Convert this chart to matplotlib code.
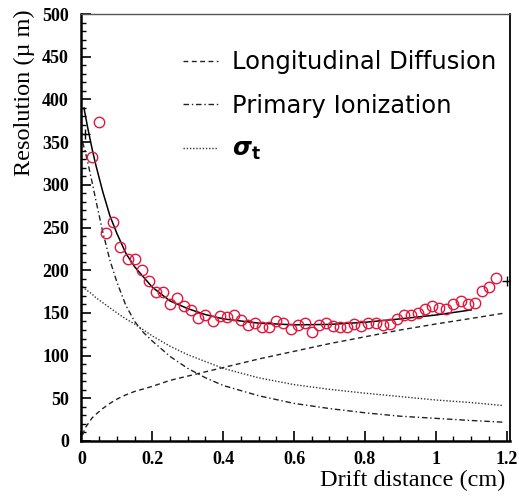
import numpy as np
import matplotlib
matplotlib.use('Agg')
import matplotlib.pyplot as plt
from matplotlib.ticker import MultipleLocator

# measured points
jarak = [0.03, 0.05, 0.07, 0.09, 0.11, 0.13, 0.15, 0.17, 0.19, 0.21,
         0.23, 0.25, 0.27, 0.29, 0.31, 0.33, 0.35, 0.37, 0.39, 0.41,
         0.43, 0.45, 0.47, 0.49, 0.51, 0.53, 0.55, 0.57, 0.59, 0.61,
         0.63, 0.65, 0.67, 0.69, 0.71, 0.73, 0.75, 0.77, 0.79, 0.81,
         0.83, 0.85, 0.87, 0.89, 0.91, 0.93, 0.95, 0.97, 0.99, 1.01,
         1.03, 1.05, 1.07, 1.09, 1.11, 1.13, 1.15, 1.17]
resolusi = [333, 373, 244, 256, 227, 213, 213, 200, 187, 175,
            175, 161, 167, 158, 153, 144, 148, 141, 146, 145,
            148, 142, 135.5, 138, 133, 134, 141, 138, 131, 136,
            138, 128, 135.5, 138, 135, 134, 133, 137, 135, 138.7,
            138, 136, 136.7, 143, 147.6, 147.6, 149.5, 155, 158, 156,
            154, 160, 163.5, 161, 162, 175.6, 180.7, 191]

# model curves
kurvaX = [0.003, 0.01, 0.02, 0.03, 0.04, 0.06, 0.08, 0.1, 0.125, 0.15, 0.175, 0.2,
          0.25, 0.3, 0.35, 0.4, 0.5, 0.6, 0.7, 0.8, 0.9, 1.0, 1.1, 1.19]
longDiff = [7, 15, 21, 27, 31, 38, 44, 49, 54, 58, 61, 64,
            71, 76, 81, 86, 96, 105, 114, 122, 130, 137, 143.5, 149.5]
primIon = [350, 340, 322, 303, 283, 245, 212, 186, 159, 140, 127, 117,
           99, 85, 74, 65, 53, 44, 38, 33, 29, 26.5, 24, 22]
sigmaT = [181, 178, 175, 172, 168, 162, 156, 150, 143, 137, 130, 123,
          111, 101, 93, 85, 74, 66, 60.5, 56, 52, 48, 45, 41.5]

fitX = [0.007, 0.018, 0.03, 0.04, 0.06, 0.08, 0.1, 0.125, 0.15, 0.175, 0.2,
        0.25, 0.3, 0.35, 0.4, 0.5, 0.6, 0.7, 0.8, 0.9, 1.0, 1.1]
fitY = [390, 366, 342, 324, 292, 264, 243, 220, 204, 192, 180,
        164, 155, 148, 143, 138, 136, 136.5, 139, 143, 147.5, 153.5]

plusX = [0.01, 1.2]
plusY = [359, 187]

labelLD = 'Longitudinal Diffusion'
labelPI = 'Primary Ionization'
labelST = r'$\boldsymbol{\sigma}_\mathbf{t}$'

fig = plt.figure(figsize=(5.19, 4.97), dpi=100)
ax = fig.add_axes([0.157, 0.1127, 0.826, 0.8591])

ax.plot(kurvaX, longDiff, color='#222222', lw=1.0, ls=(0, (3.5, 2.5)), label=labelLD)
ax.plot(kurvaX, primIon, color='#222222', lw=1.0, ls=(0, (4, 2, 1, 2)), label=labelPI)
ax.plot(kurvaX, sigmaT, color='#333333', lw=1.0, ls=(0, (1, 1.3)), label=labelST)
ax.plot(fitX, fitY, color='black', lw=1.1)
ax.plot(jarak, resolusi, 'o', mfc='none', mec='#e3173c', mew=1.0, ms=7.5)
ax.plot(plusX, plusY, '+', color='black', ms=7, mew=1.0)

ax.set_xlim(0, 1.21)
ax.set_ylim(0, 500)
ax.xaxis.set_major_locator(MultipleLocator(0.2))
ax.xaxis.set_minor_locator(MultipleLocator(0.05))
ax.yaxis.set_major_locator(MultipleLocator(50))
ax.yaxis.set_minor_locator(MultipleLocator(10))
ax.set_xticks([0, 0.2, 0.4, 0.6, 0.8, 1.0, 1.2])
ax.set_xticklabels(['0', '0.2', '0.4', '0.6', '0.8', '1', '1.2'])

ax.tick_params(which='both', direction='in', top=False, right=False)
ax.tick_params(which='major', length=7, width=1.2)
ax.tick_params(which='minor', length=3.5, width=1.0)
ax.tick_params(axis='y', which='major', pad=9)
ax.tick_params(axis='x', which='major', pad=7)
for lab in ax.get_xticklabels() + ax.get_yticklabels():
    lab.set_family('Liberation Serif')
    lab.set_fontweight('bold')
    lab.set_fontsize(13)

ax.spines['left'].set_linewidth(1.8)
ax.spines['bottom'].set_linewidth(1.8)
ax.spines['right'].set_linewidth(1.3)
ax.spines['top'].set_linewidth(1.0)
ax.spines['top'].set_color('#555555')

ax.set_xlabel('Drift distance (cm)', family='Liberation Serif', fontsize=17.5, loc='right')
ax.xaxis.set_label_coords(0.988, -0.067)
ax.set_ylabel(u'Resolution (\u00b5 m)', family='Liberation Serif', fontsize=17.5, loc='top')
ax.yaxis.set_label_coords(-0.108, 1.01)

ax.legend(loc='upper left', bbox_to_anchor=(0.237, 0.915), frameon=False,
          prop={'family': 'DejaVu Sans', 'size': 17.5}, handlelength=1.45,
          handletextpad=0.55, labelspacing=0.8, borderpad=0, borderaxespad=0)

plt.savefig('out.png', dpi=100)
plt.close(fig)
